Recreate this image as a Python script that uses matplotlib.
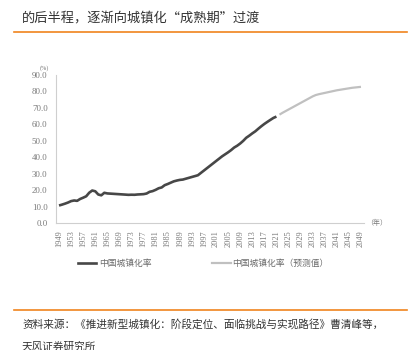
import matplotlib
matplotlib.use("Agg")
import matplotlib.pyplot as plt
from matplotlib.lines import Line2D

plt.rcParams['font.family'] = ['Noto Sans CJK SC', 'DejaVu Sans']

years_actual = list(range(1949, 2022))
rate_actual = [10.64, 11.18, 11.78, 12.46, 13.31, 13.69, 13.48, 14.62, 15.39, 16.25,
               18.41, 19.75, 19.29, 17.33, 16.84, 18.37, 17.98, 17.86, 17.74, 17.62,
               17.50, 17.38, 17.26, 17.13, 17.20, 17.16, 17.34, 17.44, 17.55, 17.92,
               18.96, 19.39, 20.16, 21.13, 21.62, 23.01, 23.71, 24.52, 25.32, 25.81,
               26.21, 26.41, 26.94, 27.46, 27.99, 28.51, 29.04, 30.48, 31.91, 33.35,
               34.78, 36.22, 37.66, 39.09, 40.53, 41.76, 42.99, 44.34, 45.89, 46.99,
               48.34, 49.95, 51.83, 53.10, 54.49, 55.75, 57.33, 58.84, 60.24, 61.50,
               62.71, 63.89, 64.72]

years_forecast = list(range(2022, 2050))
rate_forecast = [65.9, 67.0, 68.0, 69.0, 70.0, 71.0, 72.0, 73.0, 74.0, 75.0,
                 76.0, 77.0, 77.8, 78.3, 78.7, 79.1, 79.5, 79.9, 80.3, 80.7,
                 81.0, 81.3, 81.6, 81.9, 82.2, 82.4, 82.6, 82.8]

xtick_years = list(range(1949, 2050, 4))
yticks = [0, 10, 20, 30, 40, 50, 60, 70, 80, 90]

title = "的后半程，逐渐向城镇化“成熟期”过渡"
label_actual = "中国城镇化率"
label_forecast = "中国城镇化率（预测值）"
source1 = "资料来源：《推进新型城镇化：阶段定位、面临挑战与实现路径》曹清峰等，"
source2 = "天风证券研究所"

W, H = 409, 350
fig = plt.figure(figsize=(W / 100, H / 100), dpi=100)

def fx(px):
    return px / W

def fy(py):
    return 1 - py / H

tick_font = ['Liberation Serif', 'DejaVu Serif']

ax = fig.add_axes([fx(56), fy(223), fx(364) - fx(56), fy(75) - fy(223)])
ax.plot(years_actual, rate_actual, color='#474747', lw=1.9, solid_capstyle='butt')
ax.plot(years_forecast, rate_forecast, color='#c0c0c0', lw=1.6, solid_capstyle='butt')
ax.set_xlim(1948, 2050)
ax.set_ylim(0, 90)
ax.set_yticks(yticks)
ax.set_yticklabels([f"{v:.1f}" for v in yticks], fontsize=6.4, color='#7a7a7a', family=tick_font)
ax.set_xticks(xtick_years)
ax.set_xticklabels([str(y) for y in xtick_years], rotation=90, fontsize=6.0, color='#7a7a7a', family=tick_font)
ax.tick_params(axis='y', length=0, pad=6)
ax.tick_params(axis='x', length=0, pad=5)
for s in ['top', 'right']:
    ax.spines[s].set_visible(False)
for s in ['left', 'bottom']:
    ax.spines[s].set_color('#cfcfcf')
    ax.spines[s].set_linewidth(0.8)

fig.text(fx(44), fy(68), "(%)", fontsize=4.5, color='#7a7a7a', ha='center', va='center', family=tick_font)
fig.text(fx(366), fy(223), "（年）", fontsize=5, color='#7a7a7a', ha='left', va='center')

# title and rules
fig.text(fx(22), fy(18), title, fontsize=9.5, color='#333333', ha='left', va='center')
fig.add_artist(Line2D([fx(14), fx(407)], [fy(32), fy(32)], color='#f0841e', lw=1.2))
fig.add_artist(Line2D([fx(14), fx(407)], [fy(310), fy(310)], color='#f0841e', lw=1.2))

# legend
fig.add_artist(Line2D([fx(78), fx(96)], [fy(263), fy(263)], color='#474747', lw=1.9))
fig.text(fx(99), fy(263), label_actual, fontsize=6.3, color='#6b6b6b', ha='left', va='center')
fig.add_artist(Line2D([fx(212), fx(231)], [fy(263), fy(263)], color='#c0c0c0', lw=1.6))
fig.text(fx(232), fy(263), label_forecast, fontsize=6.3, color='#6b6b6b', ha='left', va='center')

# source
fig.text(fx(22), fy(324), source1, fontsize=7.7, color='#333333', ha='left', va='center')
fig.text(fx(22), fy(347), source2, fontsize=7.7, color='#333333', ha='left', va='center')

fig.savefig("out.png", dpi=100)
